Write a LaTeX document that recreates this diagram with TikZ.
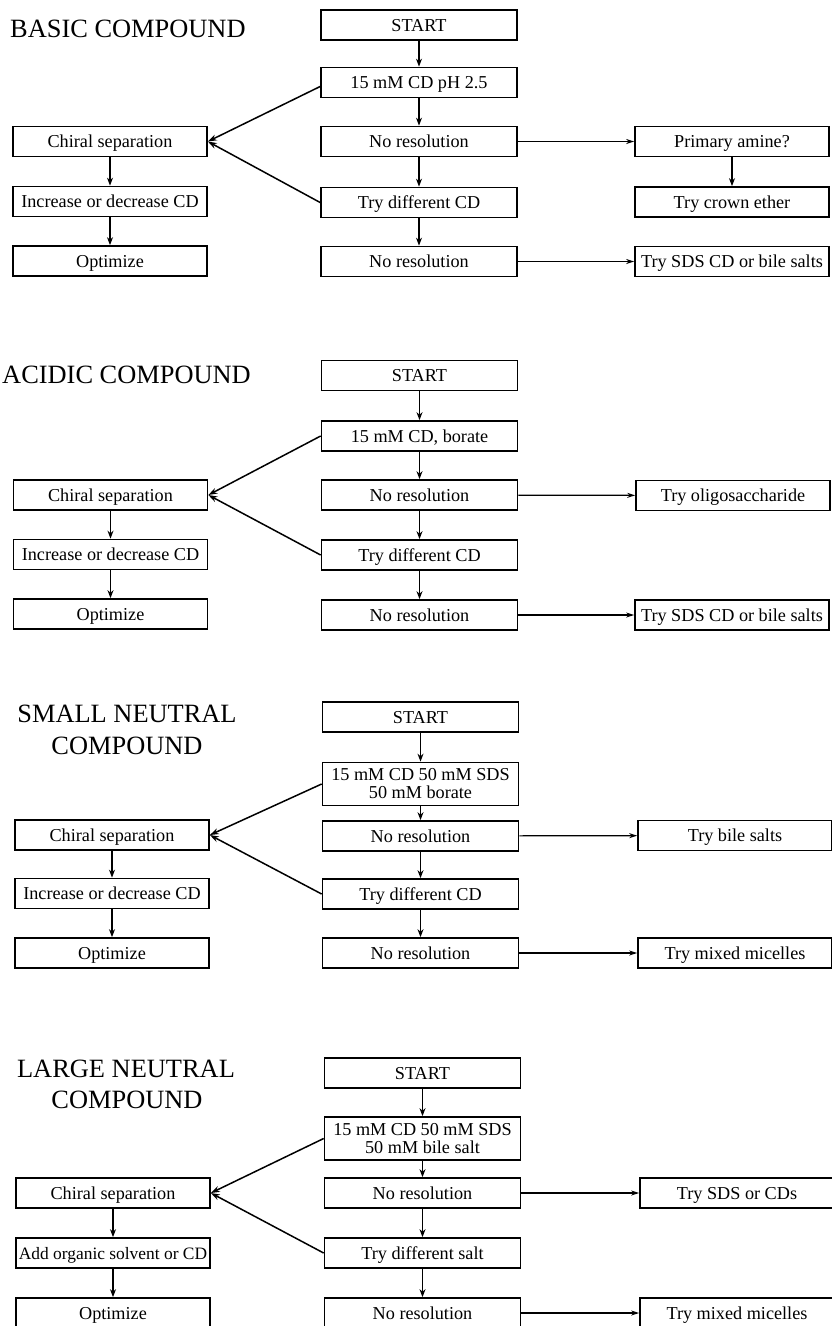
\documentclass[tikz,border=0pt]{standalone}
\usepackage{fontspec}
\setmainfont{Liberation Serif}
\usetikzlibrary{arrows.meta}
\begin{document}
\begin{tikzpicture}[x=1pt,y=-1pt,
  box/.style={draw,line width=1.7pt,minimum height=30pt,inner sep=0pt,
    text height=16pt,text depth=4pt,
    font=\fontsize{18.2}{18}\selectfont,align=center},
  midbox/.style={box,minimum width=196pt},
  sidebox/.style={box,minimum width=194pt},
  tallbox/.style={midbox,minimum height=43pt,text height=,text depth=},
  heading/.style={font=\fontsize{26.4}{31}\selectfont,inner sep=0pt},
  flow/.style={line width=1.6pt,-{Stealth[length=8pt,width=6pt]}},
  side/.style={line width=1.2pt,-{Stealth[length=8pt,width=5pt]}},
  merge/.style={line width=1.5pt,-{Stealth[length=9pt,width=6pt]}}]

\clip (0,0) rectangle (832,1326);

% ---------------- basic compound ----------------
\node[heading,anchor=base west] (t1) at (10,37) {BASIC COMPOUND};
\node[midbox] (a0) at (419,25)    {START};
\node[midbox] (a1) at (419,82.5)  {15 mM CD pH 2.5};
\node[midbox] (a2) at (419,141.5) {No resolution};
\node[midbox] (a3) at (419,202.5) {Try different CD};
\node[midbox] (a4) at (419,261.5) {No resolution};
\node[sidebox] (al1) at (110,141.5) {Chiral separation};
\node[sidebox] (al2) at (110,201.5) {Increase or decrease CD};
\node[sidebox] (al3) at (110,261)   {Optimize};
\node[sidebox] (ar1) at (732,141.5) {Primary amine?};
\node[sidebox] (ar2) at (732,202)   {Try crown ether};
\node[sidebox] (ar3) at (732,261.5) {Try SDS CD or bile salts};

\draw[flow] (a0) -- (a1);
\draw[flow] (a1) -- (a2);
\draw[flow] (a2) -- (a3);
\draw[flow] (a3) -- (a4);
\draw[flow] (al1) -- (al2);
\draw[flow] (al2) -- (al3);
\draw[flow] (ar1) -- (ar2);
\draw[side] (a2) -- (ar1);
\draw[side] (a4) -- (ar3);
\draw[merge] ([yshift=-4pt]a1.west) -- (al1.east);
\draw[merge] (a3.west) -- (al1.east);

% ---------------- acidic compound ----------------
\node[heading,anchor=base west] (t2) at (2,383) {ACIDIC COMPOUND};
\node[midbox] (b0) at (419.5,375.5) {START};
\node[midbox] (b1) at (419.5,436)   {15 mM CD, borate};
\node[midbox] (b2) at (419.5,495)   {No resolution};
\node[midbox] (b3) at (419.5,555)   {Try different CD};
\node[midbox] (b4) at (419.5,615)   {No resolution};
\node[sidebox] (bl1) at (110.5,495)   {Chiral separation};
\node[sidebox] (bl2) at (110.5,554.5) {Increase or decrease CD};
\node[sidebox] (bl3) at (110.5,614)   {Optimize};
\node[sidebox] (br1) at (733,495.5) {Try oligosaccharide};
\node[sidebox] (br2) at (732,615)   {Try SDS CD or bile salts};

\draw[flow] (b0) -- (b1);
\draw[flow] (b1) -- (b2);
\draw[flow] (b2) -- (b3);
\draw[flow] (b3) -- (b4);
\draw[flow] (bl1) -- (bl2);
\draw[flow] (bl2) -- (bl3);
\draw[side] (b2) -- (br1);
\draw[side] (b4) -- (br2);
\draw[merge] (b1.west) -- (bl1.east);
\draw[merge] (b3.west) -- (bl1.east);

% ---------------- small neutral compound ----------------
\node[heading,anchor=base] (t3a) at (127,722) {SMALL NEUTRAL};
\node[heading,anchor=base] (t3b) at (127,754) {COMPOUND};
\node[midbox]  (c0) at (420.5,717) {START};
\node[tallbox] (c1) at (420.5,784) {15 mM CD 50 mM SDS\\50 mM borate};
\node[midbox]  (c2) at (420.5,836) {No resolution};
\node[midbox]  (c3) at (420.5,894) {Try different CD};
\node[midbox]  (c4) at (420.5,953) {No resolution};
\node[sidebox] (cl1) at (112,835)   {Chiral separation};
\node[sidebox] (cl2) at (112,893.5) {Increase or decrease CD};
\node[sidebox] (cl3) at (112,953)   {Optimize};
\node[sidebox] (cr1) at (735,835.5) {Try bile salts};
\node[sidebox] (cr2) at (735,953)   {Try mixed micelles};

\draw[flow] (c0) -- (c1);
\draw[flow] (c1) -- (c2);
\draw[flow] (c2) -- (c3);
\draw[flow] (c3) -- (c4);
\draw[flow] (cl1) -- (cl2);
\draw[flow] (cl2) -- (cl3);
\draw[side] (c2) -- (cr1);
\draw[side] (c4) -- (cr2);
\draw[merge] (c1.west) -- (cl1.east);
\draw[merge] (c3.west) -- (cl1.east);

% ---------------- large neutral compound ----------------
\node[heading,anchor=base] (t4a) at (126,1077) {LARGE NEUTRAL};
\node[heading,anchor=base] (t4b) at (127,1108) {COMPOUND};
\node[midbox]  (d0) at (422.5,1073)   {START};
\node[tallbox] (d1) at (422.5,1138.5) {15 mM CD 50 mM SDS\\50 mM bile salt};
\node[midbox]  (d2) at (422.5,1193)   {No resolution};
\node[midbox]  (d3) at (422.5,1253)   {Try different salt};
\node[midbox]  (d4) at (422.5,1313)   {No resolution};
\node[sidebox] (dl1) at (113,1193) {Chiral separation};
\node[sidebox,font=\fontsize{17.4}{18}\selectfont] (dl2) at (113,1253) {Add organic solvent or CD};
\node[sidebox] (dl3) at (113,1313) {Optimize};
\node[sidebox] (dr1) at (737,1193) {Try SDS or CDs};
\node[sidebox] (dr2) at (737,1313) {Try mixed micelles};

\draw[flow] (d0) -- (d1);
\draw[flow] (d1) -- (d2);
\draw[flow] (d2) -- (d3);
\draw[flow] (d3) -- (d4);
\draw[flow] (dl1) -- (dl2);
\draw[flow] (dl2) -- (dl3);
\draw[side] (d2) -- (dr1);
\draw[side] (d4) -- (dr2);
\draw[merge] (d1.west) -- (dl1.east);
\draw[merge] (d3.west) -- (dl1.east);

\end{tikzpicture}
\end{document}
